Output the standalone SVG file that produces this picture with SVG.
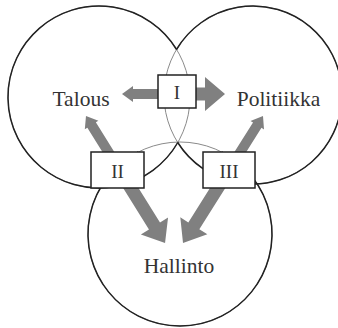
<svg xmlns="http://www.w3.org/2000/svg" width="338" height="328" viewBox="0 0 338 328">
<style>
.thin{fill:none;stroke:#8a8a8a;stroke-width:1}
.dark{fill:none;stroke:#222;stroke-width:1.5}
.arr{fill:#808080;stroke:none}
.box{fill:#fff;stroke:#222;stroke-width:1.5}
.lbl{font-family:"Liberation Serif","Times New Roman",serif;font-size:21.5px;fill:#333;text-anchor:middle}
.blbl{font-family:"Liberation Serif","Times New Roman",serif;font-size:19px;fill:#333;text-anchor:middle}
</style>
<rect width="338" height="328" fill="#fff"/>
<g id="circles">
<circle class="thin" cx="99" cy="97" r="91"/>
<circle class="thin" cx="253" cy="95" r="89"/>
<circle class="thin" cx="180" cy="234" r="92"/>
<path class="dark" d="M176.6,49.5 A91,91 0 1 0 177.8,142.5"/>
<path class="dark" d="M176.5,49.5 A89,89 0 1 1 177.7,142.5"/>
<path class="dark" d="M138.3,152 A92,92 0 1 0 221.7,152"/>
</g>
<g id="connectors">
<path class="arr" transform="translate(158,94) rotate(180)" d="M0,-5 L25,-5 L25,-8 L36,0 L25,8 L25,5 L0,5 Z"/>
<path class="arr" transform="translate(196,94)" d="M0,-6.5 L9,-6.5 L9,-17 L29,0 L9,17 L9,6.5 L0,6.5 Z"/>
<path class="arr" transform="translate(119.6,170) rotate(-121.9)" d="M0,-5 L53,-5 L53,-8 L63.6,0 L53,8 L53,5 L0,5 Z"/>
<path class="arr" transform="translate(119.6,170) rotate(58.1)" d="M0,-6.5 L66,-6.5 L66,-16 L86,0 L66,16 L66,6.5 L0,6.5 Z"/>
<path class="arr" transform="translate(229,170) rotate(-57.8)" d="M0,-5 L53,-5 L53,-8 L63.8,0 L53,8 L53,5 L0,5 Z"/>
<path class="arr" transform="translate(229,170) rotate(122.2)" d="M0,-6.5 L66,-6.5 L66,-16 L86.3,0 L66,16 L66,6.5 L0,6.5 Z"/>
</g>
<g id="talous"><text class="lbl" x="81" y="106">Talous</text></g>
<g id="politiikka"><text class="lbl" x="278.5" y="106">Politiikka</text></g>
<g id="hallinto"><text class="lbl" x="179" y="273">Hallinto</text></g>
<g id="box1"><rect class="box" x="158" y="75" width="38" height="33"/><text class="blbl" x="177" y="99">I</text></g>
<g id="box2"><rect class="box" x="91" y="152" width="53" height="36"/><text class="blbl" x="117.5" y="177.5">II</text></g>
<g id="box3"><rect class="box" x="203" y="152" width="52" height="36"/><text class="blbl" x="229" y="177.5">III</text></g>
</svg>
